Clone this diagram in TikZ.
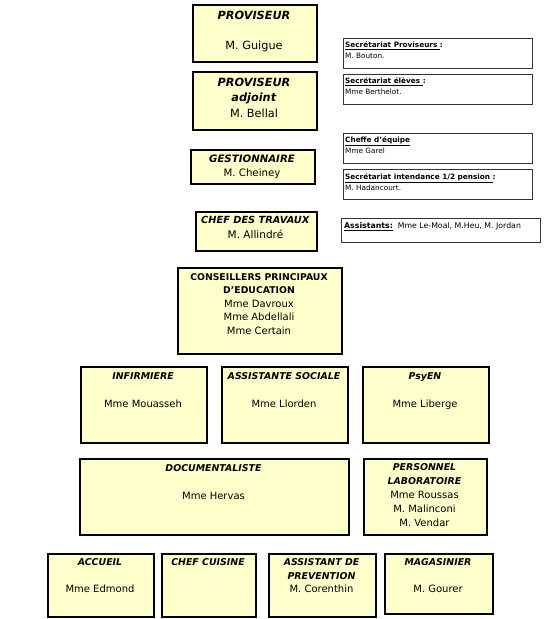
\documentclass[tikz,border=0pt]{standalone}
\usepackage{fontspec}
\setmainfont{DejaVu Sans}[ItalicFont={DejaVu Sans Oblique},BoldFont={DejaVu Sans Bold},BoldItalicFont={DejaVu Sans Bold Oblique}]
\definecolor{boxfill}{RGB}{255,255,204}
\tikzset{
  orgbox/.style={draw=black, fill=boxfill, line width=1.6pt, inner sep=0pt, anchor=north west},
  topbox/.style={orgbox, line width=2.4pt},
  secbox/.style={draw=black!80, fill=white, line width=0.8pt, inner sep=0pt, anchor=north west},
  txt/.style={inner sep=0pt, anchor=base, align=center},
  sectxt/.style={inner sep=0pt, anchor=base west, align=left, font=\fontsize{7.3}{11}\selectfont},
}
\newcommand\orgbx[6]{\node[#6, minimum width={(#4-#2)*1pt}, minimum height={(#5-#3)*1pt}] (#1) at (#2,#3) {};}
\begin{document}
\begin{tikzpicture}[x=1pt,y=-1pt]
\useasboundingbox (0,0) rectangle (550,619);
\fill[white] (0,0) rectangle (550,619);
% boxes
\orgbx{prov}{192}{4}{316}{61}{topbox}
\orgbx{adj}{192}{71}{316}{129}{topbox}
\orgbx{gest}{190}{149}{314}{183}{orgbox}
\orgbx{chef}{195}{211}{316}{250}{orgbox}
\orgbx{s1}{343}{38}{532}{68}{secbox}
\orgbx{s2}{343}{74}{532}{104}{secbox}
\orgbx{s3}{343}{133}{532}{163}{secbox}
\orgbx{s4}{343}{169}{532}{199}{secbox}
\orgbx{s5}{341}{218}{540}{242}{secbox}
\orgbx{cpe}{177}{267}{341}{353}{orgbox}
\orgbx{inf}{80}{366}{206}{442}{orgbox}
\orgbx{ass}{221}{366}{347}{442}{orgbox}
\orgbx{psy}{362}{366}{488}{442}{orgbox}
\orgbx{doc}{79}{458}{348}{534}{orgbox}
\orgbx{lab}{363}{458}{486}{534}{orgbox}
\orgbx{acc}{47}{553}{153}{616}{orgbox}
\orgbx{cui}{161}{553}{255}{616}{orgbox}
\orgbx{prev}{268}{553}{375}{616}{orgbox}
\orgbx{mag}{384}{553}{492}{613}{orgbox}
% top texts (anchor = baseline of the last line)
\node[txt, font=\fontsize{11.3}{15}\selectfont] (provt) at (254,49.1)
  {\textbf{\textit{PROVISEUR}}\\[15pt]M. Guigue};
\node[txt, font=\fontsize{11.3}{15.5}\selectfont] (adjt) at (254,117.1)
  {\textbf{\textit{PROVISEUR}}\\\textbf{\textit{adjoint}}\\M. Bellal};
\node[txt, font=\fontsize{10.2}{14}\selectfont] (gestt) at (252,176.8)
  {\textbf{\textit{GESTIONNAIRE}}\\M. Cheiney};
\node[txt, font=\fontsize{9.8}{15}\selectfont] (cheft) at (255.5,238.6)
  {\textbf{\textit{CHEF DES TRAVAUX}}\\{\fontsize{10.5}{15}\selectfont M. Allindré}};
% secretariats
\node[sectxt] (s1t) at (345,58.5) {\textbf{\underline{Secrétariat Proviseurs\ }:}\\M. Bouton.};
\node[sectxt] (s2t) at (345,94.5) {\textbf{\underline{Secrétariat élèves\ }:}\\Mme Berthelot.};
\node[sectxt] (s3t) at (345,153.5) {\textbf{\underline{Cheffe d’équipe}}\\Mme Garel};
\node[sectxt] (s4t) at (345,190.5) {\textbf{\underline{Secrétariat intendance 1/2 pension\ }:}\\M. Hadancourt.};
\node[sectxt, font=\fontsize{7.8}{11}\selectfont] (s5t) at (344,228.8) {\textbf{\underline{Assistants:}}\ \ Mme Le-Moal, M.Heu, M. Jordan};
% CPE
\node[txt, font=\fontsize{9.3}{13.4}\selectfont] (cpet) at (259,334)
  {\textbf{CONSEILLERS PRINCIPAUX}\\\textbf{D’EDUCATION}\\{\fontsize{10}{13.4}\selectfont Mme Davroux}\\{\fontsize{10}{13.4}\selectfont Mme Abdellali}\\{\fontsize{10}{13.4}\selectfont Mme Certain}};
% row 2
\node[txt, font=\fontsize{9.4}{14}\selectfont] (inft) at (143,407.4)
  {\textbf{\textit{INFIRMIERE}}\\[14pt]{\fontsize{10}{14}\selectfont Mme Mouasseh}};
\node[txt, font=\fontsize{9.4}{14}\selectfont] (asst) at (284,407.4)
  {\textbf{\textit{ASSISTANTE SOCIALE}}\\[14pt]{\fontsize{10}{14}\selectfont Mme Llorden}};
\node[txt, font=\fontsize{9.4}{14}\selectfont] (psyt) at (425,407.4)
  {\textbf{\textit{PsyEN}}\\[14pt]{\fontsize{10}{14}\selectfont Mme Liberge}};
% row 3
\node[txt, font=\fontsize{9.4}{14}\selectfont] (doct) at (213.5,499.4)
  {\textbf{\textit{DOCUMENTALISTE}}\\[14pt]{\fontsize{10}{14}\selectfont Mme Hervas}};
\node[txt, font=\fontsize{9.4}{14}\selectfont] (labt) at (424.5,526.9)
  {\textbf{\textit{PERSONNEL}}\\\textbf{\textit{LABORATOIRE}}\\{\fontsize{10}{14}\selectfont Mme Roussas}\\{\fontsize{10}{14}\selectfont M. Malinconi}\\{\fontsize{10}{14}\selectfont M. Vendar}};
% row 4
\node[txt, font=\fontsize{9.4}{13.7}\selectfont] (acct) at (100,592.8)
  {\textbf{\textit{ACCUEIL}}\\[13.7pt]{\fontsize{10}{13.7}\selectfont Mme Edmond}};
\node[txt, font=\fontsize{9.4}{13.7}\selectfont] (cuit) at (208,565.4)
  {\textbf{\textit{CHEF CUISINE}}};
\node[txt, font=\fontsize{9.4}{13.7}\selectfont] (prevt) at (321.5,592.8)
  {\textbf{\textit{ASSISTANT DE}}\\\textbf{\textit{PREVENTION}}\\{\fontsize{10}{13.7}\selectfont M. Corenthin}};
\node[txt, font=\fontsize{9.4}{13.7}\selectfont] (magt) at (438,592.8)
  {\textbf{\textit{MAGASINIER}}\\[13.7pt]{\fontsize{10}{13.7}\selectfont M. Gourer}};
\end{tikzpicture}
\end{document}
